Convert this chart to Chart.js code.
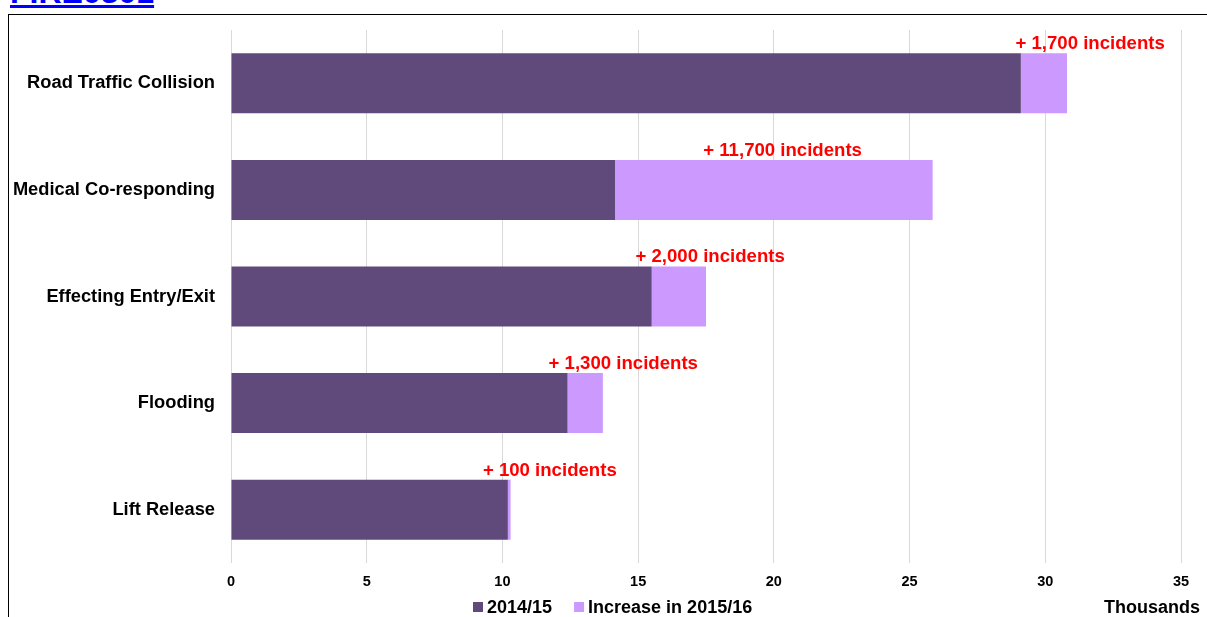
<!DOCTYPE html>
<html lang="en">

<head>
    <meta charset="utf-8">
    <title>FIRE0301 - Non-fire incidents</title>
    <script src="https://cdn.jsdelivr.net/npm/chart.js@4/dist/chart.umd.min.js"></script>
    <style>
        html, body { margin: 0; padding: 0; background: #fff; overflow: hidden; }
        body { width: 1207px; height: 617px; position: relative; font-family: "Liberation Sans", Arial, sans-serif; }
        #ref {
            position: absolute; left: 10px; top: -24px;
            font: bold 32px/32px "Liberation Sans", Arial, sans-serif;
            color: #0000ff; text-decoration: underline; text-decoration-thickness: 3px;
        }
        #frame {
            position: absolute; left: 8px; top: 14px; width: 1300px; height: 700px;
            border: 1px solid #000;
        }
        #chartBox { position: absolute; left: 0; top: 0; width: 1207px; height: 617px; }
    </style>
</head>

<body>

    <a id="ref">FIRE0301</a>
    <div id="frame"></div>
    <div id="chartBox">
        <canvas id="chart"></canvas>
    </div>

<script>
// categories (top to bottom)
var categories = ['Road Traffic Collision', 'Medical Co-responding', 'Effecting Entry/Exit', 'Flooding', 'Lift Release'];

// incidents, thousands
var base2014 = [29.1, 14.15, 15.5, 12.4, 10.2];
var increase2016 = [1.7, 11.7, 2.0, 1.3, 0.1];

var seriesNames = ['2014/15', 'Increase in 2015/16'];
var noteLabels = ['+ 1,700 incidents', '+ 11,700 incidents', '+ 2,000 incidents', '+ 1,300 incidents', '+ 100 incidents'];
// where each note starts, in thousands on the x axis
var noteAt = [28.9, 17.4, 14.9, 11.7, 9.28];

var xTicks = [0, 5, 10, 15, 20, 25, 30, 35];

var FONT = '"Liberation Sans", Arial, sans-serif';
var darkPurple = '#604a7b';
var lightPurple = '#cc99ff';

// red notes above each bar
var notesPlugin = {
    id: 'notes',
    afterDatasetsDraw: function(chart) {
        var ctx = chart.ctx;
        var xs = chart.scales.x;
        var meta = chart.getDatasetMeta(1);
        ctx.save();
        ctx.font = 'bold 18.6px ' + FONT;
        ctx.fillStyle = '#ff0000';
        ctx.textAlign = 'left';
        ctx.textBaseline = 'alphabetic';
        meta.data.forEach(function(bar, i) {
            var top = bar.y - bar.height / 2;
            ctx.fillText(noteLabels[i], xs.getPixelForValue(noteAt[i]), top - 4);
        });
        ctx.restore();
    }
};

// legend under the axis + units label
var legendPlugin = {
    id: 'bottomLegend',
    afterDraw: function(chart) {
        var ctx = chart.ctx;
        var sets = chart.data.datasets;
        ctx.save();
        ctx.font = 'bold 18px ' + FONT;
        ctx.textBaseline = 'alphabetic';
        ctx.textAlign = 'left';
        var x = 473;
        sets.forEach(function(ds) {
            ctx.fillStyle = ds.backgroundColor;
            ctx.fillRect(x, 602, 10, 10);
            ctx.fillStyle = '#000';
            ctx.fillText(ds.label, x + 14, 613);
            x += 14 + ctx.measureText(ds.label).width + 22;
        });
        ctx.textAlign = 'right';
        ctx.fillText('Thousands', 1200, 613);
        ctx.restore();
    }
};

var ctx = document.getElementById('chart').getContext('2d');
var myChart = new Chart(ctx, {
    type: 'bar',
    data: {
        labels: categories,
        datasets: [
            {
                label: seriesNames[0],
                data: base2014,
                backgroundColor: darkPurple,
                borderWidth: 0
            },
            {
                label: seriesNames[1],
                data: increase2016,
                backgroundColor: lightPurple,
                borderWidth: 0
            }
        ]
    },
    options: {
        indexAxis: 'y',
        responsive: true,
        maintainAspectRatio: false,
        animation: false,
        layout: { padding: { left: 0, right: 26, top: 30, bottom: 0 } },
        categoryPercentage: 1,
        barPercentage: 0.563,
        plugins: {
            legend: { display: false },
            tooltip: { enabled: false }
        },
        scales: {
            x: {
                stacked: true,
                min: 0,
                max: 35,
                afterBuildTicks: function(scale) {
                    scale.ticks = xTicks.map(function(v) { return { value: v }; });
                },
                afterFit: function(scale) { scale.height = 54; },
                grid: { color: '#d9d9d9', lineWidth: 1, drawTicks: false },
                border: { display: false },
                ticks: {
                    padding: 10,
                    color: '#000',
                    font: { family: FONT, size: 14.5, weight: 'bold' }
                }
            },
            y: {
                stacked: true,
                afterFit: function(scale) { scale.width = 231; },
                grid: { display: false, drawTicks: false },
                border: { display: false },
                ticks: {
                    padding: 16,
                    color: '#000',
                    font: { family: FONT, size: 18.3, weight: 'bold' }
                }
            }
        }
    },
    plugins: [notesPlugin, legendPlugin]
});
</script>

</body>

</html>
